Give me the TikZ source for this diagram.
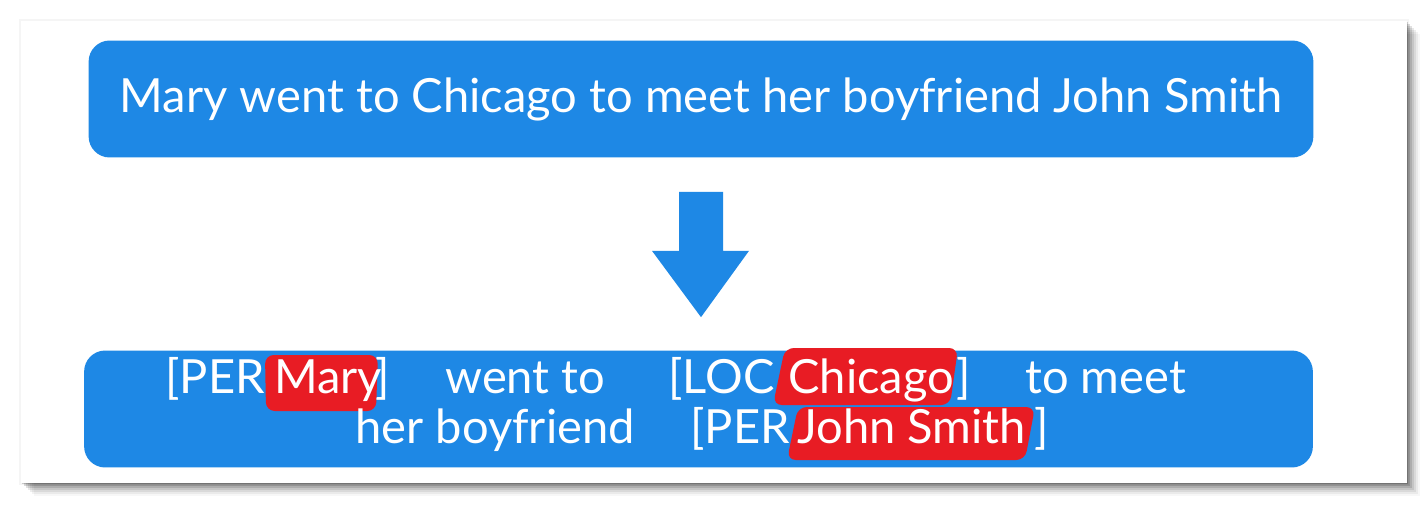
\documentclass[tikz,border=0pt]{standalone}
\usepackage{fontspec}
\setmainfont{Lato}
\usetikzlibrary{positioning, calc}

\definecolor{boxblue}{HTML}{1E88E5}
\definecolor{tagred}{HTML}{E81C24}

\begin{document}
\begin{tikzpicture}[x=0.02cm, y=-0.02cm,
    bluebox/.style={fill=boxblue, rounded corners=12pt, inner sep=0pt,
                    minimum width=24.5cm, minimum height=2.34cm},
    word/.style={text=white, font=\fontsize{26.8}{30}\selectfont, inner sep=0pt,
                 anchor=base west},
    tag/.style={fill=tagred, rounded corners=5pt}
    ]
    \useasboundingbox (0,0) rectangle (1428,505);
    % card and its shadow
    \foreach \d/\o in {13/0.03, 11/0.05, 9/0.07, 7/0.09, 5/0.12, 3/0.15, 1/0.18}
      \fill[black, opacity=\o] (21+\d,21+\d) rectangle (1407+\d,483+\d);
    \fill[black, opacity=0.04] (19,19) rectangle (1409,485);
    \fill[white] (21,21) rectangle (1407,483);

    \node[bluebox] (src) at (701,99)
        {\textcolor{white}{\fontsize{26.8}{30}\selectfont Mary went to Chicago to meet her boyfriend John Smith}};
    \node[bluebox, minimum width=24.58cm] (tagged) at (698.5,409) {};

    % block arrow between the boxes
    \fill[boxblue] ($(src.south)+(-22,34)$) -- ($(src.south)+(22,34)$)
        -- ($(src.south)+(22,93)$) -- ($(src.south)+(48,93)$)
        -- ($(tagged.north)+(2.5,-33)$) -- ($(src.south)+(-49,93)$)
        -- ($(src.south)+(-22,93)$) -- cycle;

    % highlighted entities
    \fill[tag] (265,355) -- (378,355) -- (376,411) -- (266,411) -- cycle;
    \fill[tag] (785,348) -- (958,348) -- (950,405) -- (773,405) -- cycle;
    \fill[tag] (798,407) -- (1035,407) -- (1025,460) -- (787,460) -- cycle;

    % first line
    \node[word] (per1)  at (165,393) {[PER};
    \node[word] (mary)  at (274,393) {Mary};
    \node[word] (cl1)   at (375,393) {]};
    \node[word] (went)  at (445,393) {went to};
    \node[word] (loc)   at (668,393) {[LOC};
    \node[word] (chi)   at (788,393) {Chicago};
    \node[word] (cl2)   at (956,393) {]};
    \node[word] (meet)  at (1025,393) {to meet};
    % second line
    \node[word] (boy)   at (355,443) {her boyfriend};
    \node[word] (per2)  at (690,443) {[PER};
    \node[word] (john)  at (797,443) {John Smith};
    \node[word] (cl3)   at (1034,443) {]};
\end{tikzpicture}
\end{document}
